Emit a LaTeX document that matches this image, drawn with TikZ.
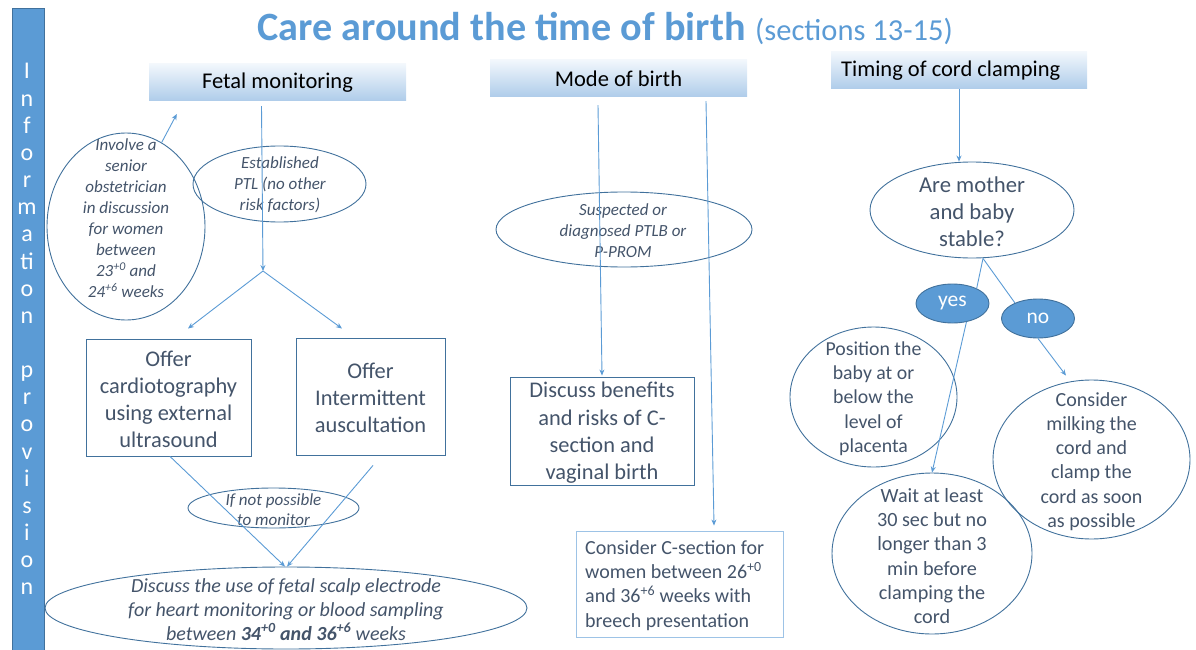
\documentclass[tikz,border=0pt]{standalone}
\usepackage{fontspec}
\setmainfont{Carlito}
\usetikzlibrary{arrows.meta,shapes.geometric,calc}
\definecolor{accent}{HTML}{5B9BD5}
\definecolor{edge}{HTML}{41719C}
\definecolor{ink}{HTML}{44546A}
\definecolor{paleedge}{HTML}{9DC3E6}
\definecolor{headtop}{HTML}{F2F7FC}
\definecolor{headbot}{HTML}{AECCEA}

\tikzset{
  link/.style={draw=accent, line width=0.9pt, -{Stealth[length=6pt,width=5pt]}},
  plainlink/.style={draw=accent, line width=0.9pt},
  oval/.style={ellipse, draw=edge, line width=0.9pt, inner sep=0pt},
  choice/.style={ellipse, draw=edge, fill=accent, line width=0.9pt, inner sep=0pt,
    text=white, font=\fontsize{21.5}{24}\selectfont},
  stepbox/.style={draw=edge, line width=0.9pt, inner sep=0pt},
  header/.style={top color=headtop, bottom color=headbot, inner sep=0pt,
    font=\fontsize{22.5}{26}\selectfont, text=black},
  note/.style={text=ink, align=center, inner sep=0pt, font=\fontsize{17}{21}\selectfont\itshape},
  body/.style={text=ink, align=center, inner sep=0pt, font=\fontsize{22.4}{27}\selectfont},
  sidebar/.style={fill=accent, draw=edge, line width=0.6pt},
  sideletter/.style={text=white, anchor=base, inner sep=0pt, font=\fontsize{24}{24}\selectfont},
}

\begin{document}
\begin{tikzpicture}[x=1pt,y=-1pt]
\useasboundingbox (0,0) rectangle (1196,650);

% side bar with vertical caption
\fill[sidebar] (12,8) rectangle (44,652);
\foreach \ch [count=\k from 0] in {I,n,f,o,r,m,a,ti,o,n,{},p,r,o,v,i,s,i,o,n}
  \node[sideletter] (side\k) at (27,{79+27.15*\k}) {\strut\ch};

% title
\node[anchor=base west, inner sep=0pt, text=accent, font=\fontsize{40.2}{44}\selectfont\bfseries]
  (title) at (257,41) {Care around the time of birth};
\node[anchor=base west, inner sep=0pt, text=accent, font=\fontsize{30.5}{33}\selectfont]
  (sections) at (755,41) {(sections 13-15)};

% ---------- fetal monitoring column ----------
\node[header, minimum width=257pt, minimum height=37pt] (fm) at (277.5,82.5) {Fetal monitoring};

\node[oval, minimum width=158pt, minimum height=187pt] (senior) at (126,226.5) {};
\node[note] (seniortxt) at (126,218) {Involve a\\senior\\obstetrician\\in discussion\\for women\\between\\23\textsuperscript{+0} and\\24\textsuperscript{+6} weeks};

\node[oval, minimum width=173pt, minimum height=76pt] (ptl) at (279.5,184) {};
\node[note] (ptltxt) at (280,185) {Established\\PTL (no other\\risk factors)};

\node[stepbox, minimum width=165pt, minimum height=117pt] (ctg) at (168.5,397.5) {};
\node[body] (ctgtxt) at (168.5,399) {Offer\\cardiotography\\using external\\ultrasound};

\node[stepbox, minimum width=149pt, minimum height=117pt] (ia) at (370.5,396.5) {};
\node[body] (iatxt) at (370.5,398) {Offer\\Intermittent\\auscultation};

\node[oval, minimum width=171pt, minimum height=40pt] (nomon) at (273.5,508) {};
\node[note] (nomontxt) at (273.5,509.5) {If not possible\\[-0.5pt]to monitor};

\node[oval, minimum width=482pt, minimum height=82pt] (scalp) at (286,608) {};
\node[note, font=\fontsize{20}{24}\selectfont\itshape] (scalptxt) at (286,609.5)
  {Discuss the use of fetal scalp electrode\\for heart monitoring or blood sampling\\between \textbf{34\textsuperscript{+0} and 36\textsuperscript{+6}} weeks};

\coordinate (fmfork) at (263,271);
\draw[link] ($(fm.south)+(-16,5)$) -- (fmfork);
\draw[link] (fmfork) -- ($(ctg.north)+(19.5,-10)$);
\draw[link] (fmfork) -- ($(ia.north)+(-28.5,-9)$);
\draw[link] (senior.67) -- ($(fm.west)+(28,31.5)$);
\draw[link] ($(ctg.south)+(1.5,0)$) -- ([xshift=-1pt]scalp.north);
\draw[link] ($(ia.south)+(2.5,10)$) -- ([xshift=1pt]scalp.north);

% ---------- mode of birth column ----------
\node[header, minimum width=257pt, minimum height=37pt] (mob) at (618.5,78.5) {Mode of birth};

\node[oval, minimum width=256pt, minimum height=75pt] (ptlb) at (624,229.5) {};
\node[note] (ptlbtxt) at (623,230.5) {Suspected or\\diagnosed PTLB or\\P-PROM};

\node[stepbox, minimum width=184pt, minimum height=108pt] (disc) at (602,431) {};
\node[body, font=\fontsize{22.4}{27.3}\selectfont] (disctxt) at (602,433)
  {Discuss benefits\\and risks of C-\\section and\\vaginal birth};

\node[draw=paleedge, line width=0.9pt, inner sep=0pt, minimum width=207pt, minimum height=106pt]
  (breech) at (679.5,584) {};
\node[text=ink, align=left, anchor=west, inner sep=0pt, font=\fontsize{20}{24.2}\selectfont]
  (breechtxt) at (585,585.5)
  {Consider C-section for\\women between 26\textsuperscript{+0}\\and 36\textsuperscript{+6} weeks with\\breech presentation};

\draw[link] ($(mob.south)+(-20.5,8)$) -- ($(disc.north)+(0,-1)$);
\draw[link] ($(mob.south)+(87.5,4)$) -- ($(breech.north)+(34.5,-5)$);

% ---------- cord clamping column ----------
\node[header, minimum width=256pt, minimum height=37pt] (tcc) at (959,70.5) {};
\node[anchor=west, inner sep=0pt, font=\fontsize{22.5}{26}\selectfont, text=black]
  (tcctxt) at (841,71) {Timing of cord clamping};

\node[oval, minimum width=204pt, minimum height=96pt] (stable) at (972,210) {};
\node[body, font=\fontsize{22.7}{27}\selectfont] (stabletxt) at (972,212) {Are mother\\and baby\\stable?};

\node[choice, minimum width=73pt, minimum height=39pt] (yes) at (952.5,303.5) {yes};
\node[choice, minimum width=73pt, minimum height=39pt] (no) at (1038,318.5) {no};

\node[oval, minimum width=167pt, minimum height=140pt] (place) at (873.5,397) {};
\node[body, font=\fontsize{19.8}{24.3}\selectfont] (placetxt) at (873.5,398.5)
  {Position the\\baby at or\\below the\\level of\\placenta};

\node[oval, minimum width=197pt, minimum height=159pt] (milk) at (1091.5,459.5) {};
\node[body, font=\fontsize{20}{24.2}\selectfont] (milktxt) at (1091.5,461.5)
  {Consider\\milking the\\cord and\\clamp the\\cord as soon\\as possible};

\node[oval, minimum width=200pt, minimum height=161pt] (wait) at (932,553.5) {};
\node[body, font=\fontsize{20.2}{24.3}\selectfont] (waittxt) at (932,556)
  {Wait at least\\30 sec but no\\longer than 3\\min before\\clamping the\\cord};

\coordinate (fork) at ($(stable.south)+(11,0)$);
\draw[link] (tcc.south) -- ($(stable.north)+(-13,0)$);
\draw[plainlink] (fork) -- (yes.32);
\draw[plainlink] (fork) -- (no.146);
\draw[link] (yes.-53) -- (wait.north);
\draw[link] (no.south) -- ($(milk.north)+(-25.5,-4)$);
\end{tikzpicture}
\end{document}
